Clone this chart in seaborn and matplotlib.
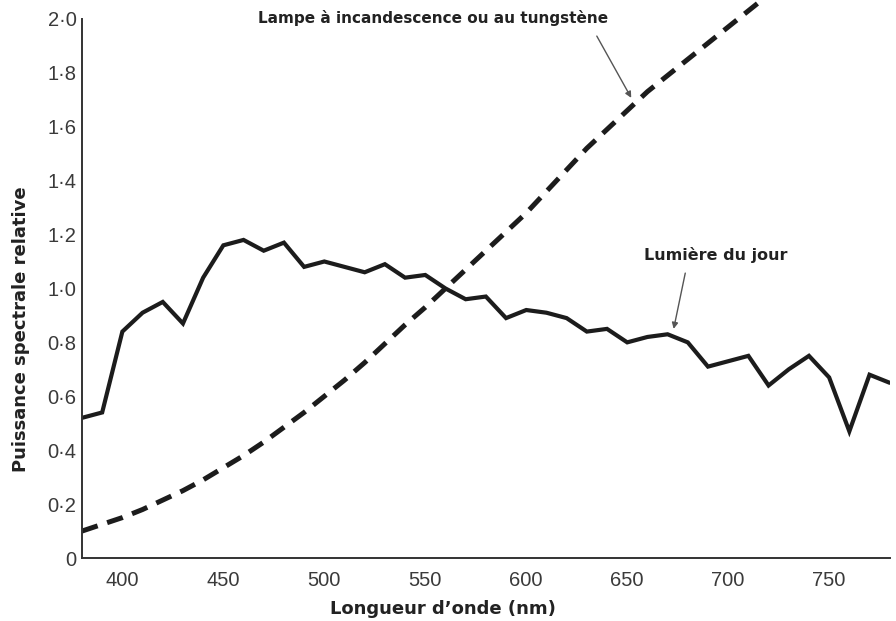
import numpy as np
import pandas as pd
import matplotlib
matplotlib.use("Agg")
import matplotlib.pyplot as plt
import seaborn as sns

# longueurs d'onde (nm), pas de 10 nm
wavelength = list(range(380, 790, 10))

# Lumière du jour (lecture sur la figure)
daylight = [0.52, 0.54, 0.84, 0.91, 0.95, 0.87, 1.04, 1.16, 1.18, 1.14,
            1.17, 1.08, 1.10, 1.08, 1.06, 1.09, 1.04, 1.05, 1.00, 0.96,
            0.97, 0.89, 0.92, 0.91, 0.89, 0.84, 0.85, 0.80, 0.82, 0.83,
            0.80, 0.71, 0.73, 0.75, 0.64, 0.70, 0.75, 0.67, 0.47, 0.68,
            0.65]

# Lampe à incandescence (tungstène), coupée en haut du cadre
tungsten_wl = list(range(380, 730, 10))
tungsten = [0.100, 0.125, 0.150, 0.180, 0.215, 0.250, 0.290, 0.335, 0.380, 0.430,
            0.485, 0.540, 0.600, 0.660, 0.725, 0.795, 0.865, 0.930, 1.000, 1.070,
            1.140, 1.210, 1.280, 1.360, 1.440, 1.520, 1.590, 1.660, 1.730, 1.790,
            1.850, 1.910, 1.970, 2.030, 2.090]

y_ticks = [0, 0.2, 0.4, 0.6, 0.8, 1.0, 1.2, 1.4, 1.6, 1.8, 2.0]
y_labels = ["0", "0·2", "0·4", "0·6", "0·8", "1·0", "1·2", "1·4", "1·6", "1·8", "2·0"]
x_ticks = [400, 450, 500, 550, 600, 650, 700, 750]

sns.set_style("white")
plt.rcParams["font.family"] = ["Liberation Sans", "DejaVu Sans"]

ink = "#1c1c1c"
bold_font = ["DejaVu Sans"]
fig = plt.figure(figsize=(8.96, 6.21), dpi=100)
ax = fig.add_axes([0.0915, 0.1014, 0.9015, 0.8986])

sns.lineplot(x=wavelength, y=daylight, ax=ax, color=ink, linewidth=3.0,
             solid_joinstyle="miter")
sns.lineplot(x=tungsten_wl, y=tungsten, ax=ax, color=ink, linewidth=3.6,
             linestyle=(0, (3.3, 2.0)), dash_capstyle="butt")

ax.set_xlim(380, 780)
ax.set_ylim(0, 2.07)
ax.set_yticks(y_ticks)
ax.set_yticklabels(y_labels, family=["Liberation Sans"])
ax.set_xticks(x_ticks)
ax.set_xticklabels([str(t) for t in x_ticks], family=["Liberation Sans"])

for s in ["top", "right"]:
    ax.spines[s].set_visible(False)
for s in ["left", "bottom"]:
    ax.spines[s].set_color("#333333")
    ax.spines[s].set_linewidth(1.4)
ax.spines["left"].set_bounds(0, 2.0)

ax.tick_params(axis="y", direction="in", length=7, width=1.2, color="#333333",
               pad=4, labelsize=14.5, labelcolor="#3a3a3a")
ax.tick_params(axis="x", direction="in", length=4, width=1.0, color="#555555",
               pad=9, labelsize=14.5, labelcolor="#3a3a3a")

ax.set_xlabel("Longueur d\u2019onde (nm)", fontsize=13, fontweight="bold",
              color="#222222", family=bold_font)
ax.xaxis.set_label_coords(0.447, -0.075)
ax.set_ylabel("Puissance spectrale relative", fontsize=13, fontweight="bold",
              color="#222222", family=bold_font)
ax.yaxis.set_label_coords(-0.064, 0.41)

ax.annotate("Lampe à incandescence ou au tungstène", xy=(652, 1.707),
            xytext=(554, 2.005), ha="center", va="center", fontsize=11,
            fontweight="bold", color="#222222", family=bold_font,
            arrowprops=dict(arrowstyle="-|>", color="#555555", lw=1.0,
                            mutation_scale=9, shrinkA=6, shrinkB=0,
                            relpos=(0.95, 0.0)),
            annotation_clip=False)
ax.annotate("Lumière du jour", xy=(673, 0.85), xytext=(694, 1.124),
            ha="center", va="center", fontsize=11.5, fontweight="bold",
            color="#222222", family=bold_font,
            arrowprops=dict(arrowstyle="-|>", color="#555555", lw=1.0,
                            mutation_scale=9, shrinkA=5, shrinkB=0,
                            relpos=(0.3, 0.0)))

fig.savefig("out.png", dpi=100, facecolor="white")
